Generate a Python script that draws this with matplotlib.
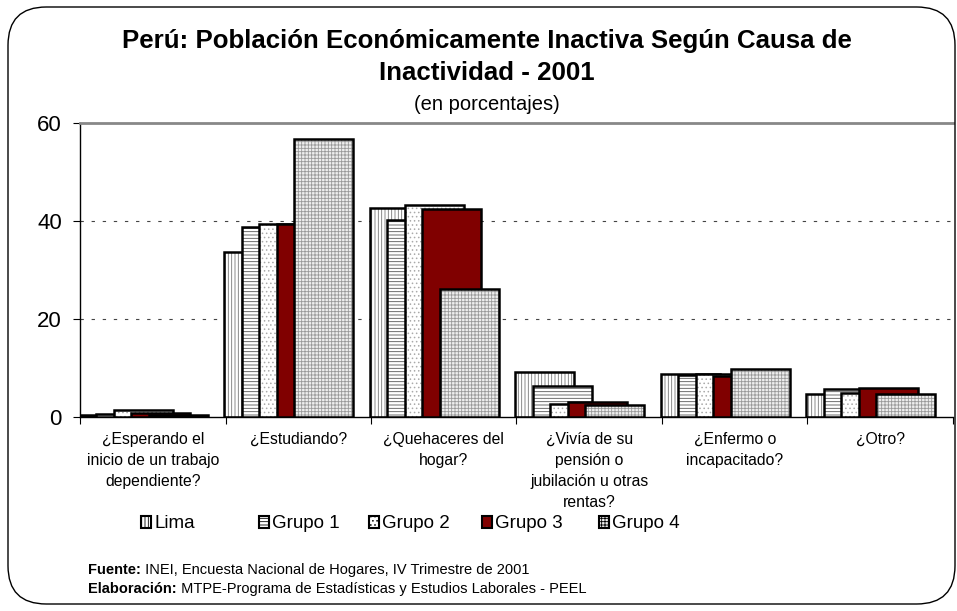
import matplotlib
matplotlib.use("Agg")
import numpy as np
import matplotlib.pyplot as plt
from matplotlib.patches import FancyBboxPatch, Patch

plt.rcParams["font.family"] = ["Liberation Sans", "DejaVu Sans"]
plt.rcParams["hatch.linewidth"] = 0.6

categories = [
    "¿Esperando el\ninicio de un trabajo\ndependiente?",
    "¿Estudiando?",
    "¿Quehaceres del\nhogar?",
    "¿Vivía de su\npensión o\njubilación u otras\nrentas?",
    "¿Enfermo o\nincapacitado?",
    "¿Otro?",
]
series_names = ["Lima", "Grupo 1", "Grupo 2", "Grupo 3", "Grupo 4"]

lima = [0.4, 33.7, 42.6, 9.2, 8.7, 4.7]
grupo1 = [0.6, 38.8, 40.2, 6.3, 8.4, 5.6]
grupo2 = [1.3, 39.3, 43.2, 2.6, 8.6, 4.9]
grupo3 = [0.8, 39.3, 42.5, 3.0, 8.3, 5.8]
grupo4 = [0.3, 56.7, 26.1, 2.4, 9.7, 4.7]
values = [lima, grupo1, grupo2, grupo3, grupo4]

# fill colour, hatch, hatch colour for each series
styles = [
    ("white", "|||||", "#777777"),
    ("white", "-----", "#555555"),
    ("white", "....", "#aaaaaa"),
    ("#800000", "", "#800000"),
    ("#eeeeee", "+++++", "#999999"),
]

fig = plt.figure(figsize=(9.57, 6.11), dpi=100)
ax = fig.add_axes([0.0836, 0.3183, 0.9122, 0.4804])

x = np.arange(len(categories))
step = 0.12
width = 0.405
start = x - 0.5 - 0.008

for i, (vals, name) in enumerate(zip(values, series_names)):
    face, hatch, hcolor = styles[i]
    left = start + i * step
    ax.bar(left, vals, width=width, align="edge", color=face, hatch=hatch,
           edgecolor=hcolor, linewidth=0, zorder=2 + 2 * i)
    ax.bar(left, vals, width=width, align="edge", fill=False,
           edgecolor="black", linewidth=1.8, zorder=3 + 2 * i)

ax.set_xlim(-0.5, len(categories) - 0.5)
ax.set_ylim(0, 60)
ax.set_yticks([0, 20, 40, 60])
ax.tick_params(axis="y", labelsize=16, length=5, direction="out", pad=8)
for yv in [20, 40]:
    ax.axhline(yv, color="#444444", linewidth=0.8, linestyle=(0, (3, 7)), zorder=0)

ax.set_xticks(np.arange(len(categories) + 1) - 0.5)
ax.set_xticklabels([])
ax.tick_params(axis="x", which="major", length=5, direction="out")
ax.set_xticks(x, minor=True)
ax.set_xticklabels(categories, minor=True, fontsize=11.3, linespacing=1.5)
ax.tick_params(axis="x", which="minor", length=0, pad=11)

ax.spines["right"].set_visible(False)
ax.spines["top"].set_color("#888888")
ax.spines["top"].set_linewidth(2)
ax.spines["left"].set_linewidth(1)
ax.spines["bottom"].set_linewidth(1)

# one legend entry per series so the spacing follows the original
legend_x = [141, 259, 369, 482, 599]
for (face, hatch, hcolor), name, lx in zip(styles, series_names, legend_x):
    h = Patch(facecolor=face, hatch=hatch, edgecolor="black", linewidth=1.5)
    fig.legend([h], [name], loc="center left", bbox_to_anchor=(lx / 957, 1 - 524 / 611),
               frameon=False, fontsize=13.5, handlelength=0.55, handleheight=0.55,
               handletextpad=0.15, borderpad=0, borderaxespad=0)

fig.text(0.509, 1 - 41 / 611, "Perú: Población Económicamente Inactiva Según Causa de",
         ha="center", va="center", fontsize=18.6, fontweight="bold")
fig.text(0.509, 1 - 73 / 611, "Inactividad - 2001",
         ha="center", va="center", fontsize=18.6, fontweight="bold")
fig.text(0.509, 1 - 104 / 611, "(en porcentajes)", ha="center", va="center", fontsize=14.5)

renderer = fig.canvas.get_renderer()
notes = [("Fuente:", " INEI, Encuesta Nacional de Hogares, IV Trimestre de 2001", 570),
         ("Elaboración:", " MTPE-Programa de Estadísticas y Estudios Laborales - PEEL", 589)]
for bold, rest, ypx in notes:
    t = fig.text(88 / 957, 1 - ypx / 611, bold, ha="left", va="center",
                 fontsize=10.5, fontweight="bold")
    bb = t.get_window_extent(renderer)
    fig.text(bb.x1 / fig.bbox.width, 1 - ypx / 611, rest, ha="left", va="center",
             fontsize=10.5)

frame = FancyBboxPatch((8 / 957, 7 / 611), 947 / 957, 597 / 611,
                       boxstyle="round,pad=0,rounding_size=0.04",
                       transform=fig.transFigure, fill=False, edgecolor="black",
                       linewidth=1, mutation_aspect=957 / 611)
fig.patches.append(frame)

fig.savefig("out.png", dpi=100)
